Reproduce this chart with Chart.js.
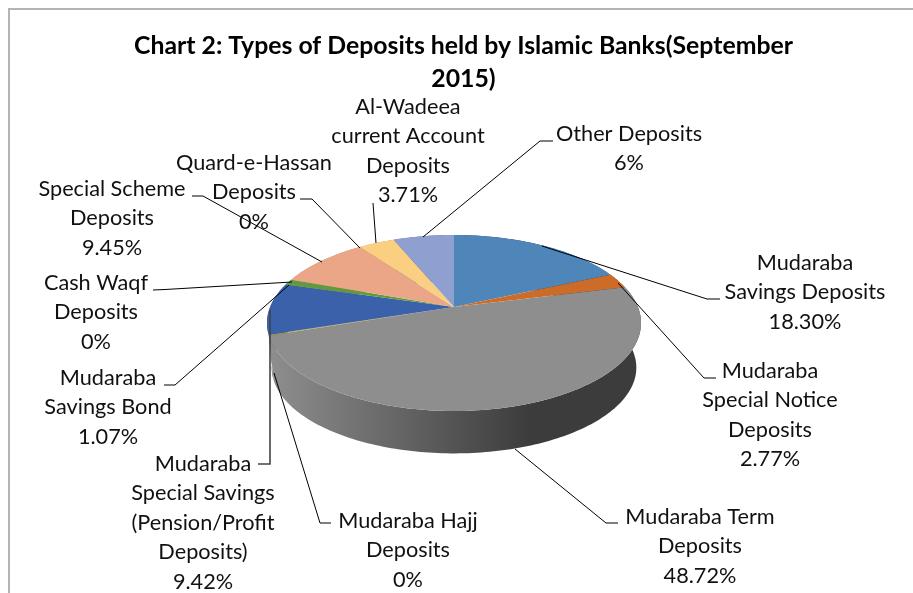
<!DOCTYPE html>
<html>
<head>
<meta charset="utf-8">
<script src="https://cdn.jsdelivr.net/npm/chart.js@4/dist/chart.umd.js"></script>
<style>
body { margin: 0; background: #fff; }
canvas { display: block; }
</style>
</head>
<body>
<canvas id="chart1" width="913" height="593"></canvas>
<script>
var categories = ["Mudaraba Savings Deposits", "Mudaraba Special Notice Deposits", "Mudaraba Term Deposits",
    "Mudaraba Hajj Deposits", "Mudaraba Special Savings (Pension/Profit Deposits)", "Mudaraba Savings Bond",
    "Cash Waqf Deposits", "Special Scheme Deposits", "Quard-e-Hassan Deposits",
    "Al-Wadeea current Account Deposits", "Other Deposits"]
var deposit_share = [18.30, 2.77, 48.72, 0.15, 9.42, 1.07, 0.02, 9.45, 0.02, 3.71, 6.25]
var share_labels = ["18.30%", "2.77%", "48.72%", "0%", "9.42%", "1.07%", "0%", "9.45%", "0%", "3.71%", "6%"]
var slice_colors = ["#4e86ba", "#cd6c28", "#8e8e8e", "#c9a010", "#3a61a9", "#5f9a3f", "#7f9fd0", "#eaa686", "#5a8ac0", "#fbcf82", "#8e9fd0"]
var title_lines = ["Chart 2: Types of Deposits held by Islamic Banks(September", "2015)"]

// text lines of each label, the percent goes on the last line
var label_lines = [
    ["Mudaraba", "Savings Deposits"],
    ["Mudaraba", "Special Notice", "Deposits"],
    ["Mudaraba Term", "Deposits"],
    ["Mudaraba Hajj", "Deposits"],
    ["Mudaraba", "Special Savings", "(Pension/Profit", "Deposits)"],
    ["Mudaraba", "Savings Bond"],
    ["Cash Waqf", "Deposits"],
    ["Special Scheme", "Deposits"],
    ["Quard-e-Hassan", "Deposits"],
    ["Al-Wadeea", "current Account", "Deposits"],
    ["Other Deposits"]
]
// center x, center y of first line
var label_pos = [[805, 263], [770, 371], [700, 517], [408, 521], [203, 464], [108, 378], [96, 283], [112, 189], [254, 163], [408, 107], [629, 134]]
var leaders = [
    [[542, 246], [707, 299], [720, 299]],
    [[618, 283], [704, 378], [716, 378]],
    [[515, 449], [606, 523], [618, 523]],
    [[274, 373], [320, 523], [331, 523]],
    [[270, 310], [270, 464], [258, 464]],
    [[289, 285], [175, 385], [164, 385]],
    [[292, 282], [165, 289.5], [153, 290]],
    [[322, 262], [203, 196], [192, 196]],
    [[360, 248], [312, 199], [300, 199]],
    [[376, 243], [373, 203]],
    [[423, 237], [540, 141], [553, 141]]
]

// perspective of the pie disc
var pie_x = 454, pie_y = 307, pie_a = 183.9, pie_b = 85.1, pie_k = 0.1818
var wall_drop = 45, wall_scale = 0.975

function project(angle, radius, lower){
    // chart.js angle: 0 is at 3 o'clock, growing clockwise
    var u = Math.cos(angle) * radius
    var v = Math.sin(angle) * radius
    var w = 1 - pie_k * v
    var s = lower ? wall_scale : 1
    return [pie_x + pie_a * s * u / w, pie_y + (lower ? wall_drop : 0) + pie_b * s * v / w]
}

function darker(hex, f){
    var n = parseInt(hex.slice(1), 16)
    return "rgb(" + Math.round((n >> 16) * f) + "," + Math.round(((n >> 8) & 255) * f) + "," + Math.round((n & 255) * f) + ")"
}

function arc_points(start, end, lower){
    var pts = []
    var steps = Math.max(2, Math.ceil((end - start) / 0.02))
    for (var i = 0; i <= steps; i++){
        pts.push(project(start + (end - start) * i / steps, 1, lower))
    }
    return pts
}

function trace(ctx, pts){
    pts.forEach((p, i) => {
        if (i == 0) ctx.moveTo(p[0], p[1])
        else ctx.lineTo(p[0], p[1])
    })
}

const pie3d = {
    id: "pie3d",
    beforeDraw: function(chart){
        var ctx = chart.ctx
        ctx.save()
        ctx.strokeStyle = "#b4b4b4"
        ctx.lineWidth = 2
        ctx.beginPath()
        ctx.moveTo(9, 593)
        ctx.lineTo(9, 9)
        ctx.lineTo(913, 9)
        ctx.stroke()
        ctx.restore()
    },
    beforeDatasetsDraw: function(chart){
        var ctx = chart.ctx
        var arcs = chart.getDatasetMeta(0).data
        ctx.save()
        // walls first, the ones furthest back before the front ones
        var order = arcs.map((a, i) => i).sort((p, q) => {
            return Math.sin((arcs[p].startAngle + arcs[p].endAngle) / 2) - Math.sin((arcs[q].startAngle + arcs[q].endAngle) / 2)
        })
        order.forEach((i) => {
            var a = arcs[i]
            var top = arc_points(a.startAngle, a.endAngle, false)
            var low = arc_points(a.startAngle, a.endAngle, true).reverse()
            var grad = ctx.createLinearGradient(270, 0, 640, 0)
            grad.addColorStop(0, darker(slice_colors[i], 1.0))
            grad.addColorStop(0.7, darker(slice_colors[i], 0.42))
            grad.addColorStop(1, darker(slice_colors[i], 0.42))
            ctx.fillStyle = grad
            ctx.beginPath()
            trace(ctx, top.concat(low))
            ctx.closePath()
            ctx.fill()
        })
        // top faces
        arcs.forEach((a, i) => {
            ctx.fillStyle = slice_colors[i]
            ctx.beginPath()
            ctx.moveTo(pie_x, pie_y)
            arc_points(a.startAngle, a.endAngle, false).forEach((p) => ctx.lineTo(p[0], p[1]))
            ctx.closePath()
            ctx.fill()
        })
        ctx.restore()
        return false
    },
    afterDraw: function(chart){
        var ctx = chart.ctx
        ctx.save()
        ctx.strokeStyle = "#000"
        ctx.lineWidth = 1
        leaders.forEach((line, i) => {
            // the special savings line looks heavier in the original
            ctx.lineWidth = i == 4 ? 1.6 : 1
            ctx.strokeStyle = i == 4 ? "#444" : "#000"
            ctx.beginPath()
            trace(ctx, line)
            ctx.stroke()
        })
        ctx.fillStyle = "#111"
        ctx.font = "21.7px Lato"
        ctx.textAlign = "center"
        ctx.textBaseline = "middle"
        label_lines.forEach((lines, i) => {
            lines.concat([share_labels[i]]).forEach((t, j) => {
                ctx.fillText(t, label_pos[i][0], label_pos[i][1] + j * 29.4)
            })
        })
        ctx.restore()
    }
}

new Chart(document.getElementById("chart1"), {
    type: "pie",
    data: {
        labels: categories,
        datasets: [{
            data: deposit_share,
            backgroundColor: slice_colors,
            borderWidth: 0
        }]
    },
    options: {
        responsive: false,
        animation: false,
        layout: { padding: { left: 14, top: 30 } },
        plugins: {
            title: {
                display: true,
                text: title_lines,
                color: "#000",
                font: { family: "Lato", size: 24.8, weight: "bold", lineHeight: 1.33 },
                padding: 0
            },
            legend: { display: false },
            tooltip: { enabled: false }
        }
    },
    plugins: [pie3d]
})
</script>
</body>
</html>
